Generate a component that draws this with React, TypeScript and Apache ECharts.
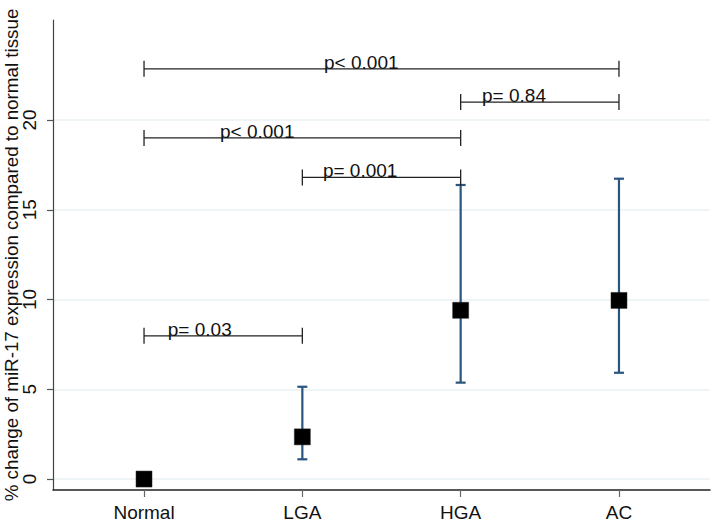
import React, { useEffect, useRef } from "react";
import * as echarts from "echarts";

const categories = ["Normal", "LGA", "HGA", "AC"];
const means = [0, 2.35, 9.4, 9.95];
const lowerCI = [0, 1.1, 5.37, 5.92];
const upperCI = [0, 5.14, 16.38, 16.73];
const yTicks = [0, 5, 10, 15, 20];

// comparison brackets: from category index, to category index, height, label, label start (x)
const bracketFrom = [1, 3, 1, 2, 1];
const bracketTo = [4, 4, 3, 3, 2];
const bracketY = [22.85, 21.0, 19.0, 16.8, 7.98];
const bracketLabels = ["p< 0.001", "p= 0.84", "p< 0.001", "p= 0.001", "p= 0.03"];
const bracketLabelX = [2.137, 3.135, 1.48, 2.13, 1.15];

const FONT = "Liberation Sans, Arial, Helvetica, sans-serif";
const FS = 19;

export default function App() {
  const ref = useRef<HTMLDivElement>(null);
  useEffect(() => {
    if (!ref.current) return;
    const chart = echarts.init(ref.current, null, { renderer: "svg" });
    const xs = categories.map((_, i) => i + 1);
    const option = {
      animation: false,
      backgroundColor: "#ffffff",
      grid: { left: 53, right: 4, top: 20, bottom: 33, containLabel: false, outerBoundsMode: "none" },
      xAxis: {
        type: "value",
        min: 0.425,
        max: 4.575,
        axisLine: { show: true, onZero: false, lineStyle: { color: "#222", width: 1.5 } },
        axisTick: { show: true, customValues: xs, length: 7, lineStyle: { color: "#666", width: 1.2 } },
        axisLabel: {
          customValues: xs,
          formatter: (v: number) => categories[Math.round(v) - 1] ?? "",
          fontSize: FS,
          fontFamily: FONT,
          color: "#111",
          margin: 13,
        },
        splitLine: { show: false },
      },
      yAxis: {
        type: "value",
        min: -0.61,
        max: 25.57,
        name: "% change of miR-17 expression compared to normal tissue",
        nameLocation: "middle",
        nameGap: 32,
        nameMoveOverlap: false,
        nameTextStyle: { fontSize: 18.8, fontFamily: FONT, color: "#111" },
        axisLine: { show: true, onZero: false, lineStyle: { color: "#444", width: 1.2 } },
        axisTick: { show: true, customValues: yTicks, length: 6, lineStyle: { color: "#555", width: 1.2 } },
        axisLabel: {
          customValues: yTicks,
          rotate: 90,
          fontSize: FS,
          fontFamily: FONT,
          color: "#111",
          margin: 14,
        },
        splitLine: { show: true, lineStyle: { color: "#eaf2f3", width: 1.5 } },
      },
      series: [
        {
          type: "custom",
          name: "ci",
          data: xs.map((x, i) => [x, lowerCI[i], upperCI[i]]),
          renderItem: (params: any, api: any) => {
            const x = api.value(0);
            const p1 = api.coord([x, api.value(1)]);
            const p2 = api.coord([x, api.value(2)]);
            const st = { stroke: "#2a557f", lineWidth: 2.2 };
            return {
              type: "group",
              children: [
                { type: "line", shape: { x1: p1[0], y1: p1[1], x2: p2[0], y2: p2[1] }, style: st },
                { type: "line", shape: { x1: p1[0] - 5, y1: p1[1], x2: p1[0] + 5, y2: p1[1] }, style: st },
                { type: "line", shape: { x1: p2[0] - 5, y1: p2[1], x2: p2[0] + 5, y2: p2[1] }, style: st },
              ],
            };
          },
          z: 2,
        },
        {
          type: "scatter",
          data: xs.map((x, i) => [x, means[i]]),
          symbol: "rect",
          symbolSize: 16,
          itemStyle: { color: "#000", opacity: 1, borderColor: "#222", borderWidth: 0.5 },
          z: 3,
        },
        {
          type: "custom",
          name: "brackets",
          data: bracketFrom.map((f, i) => [f, bracketTo[i], bracketY[i], bracketLabelX[i], i]),
          renderItem: (params: any, api: any) => {
            const a = api.coord([api.value(0), api.value(2)]);
            const b = api.coord([api.value(1), api.value(2)]);
            const t = api.coord([api.value(3), api.value(2)]);
            const idx = api.value(4);
            const st = { stroke: "#222", lineWidth: 1.3 };
            return {
              type: "group",
              children: [
                { type: "line", shape: { x1: a[0], y1: a[1], x2: b[0], y2: b[1] }, style: st },
                { type: "line", shape: { x1: a[0], y1: a[1] - 8, x2: a[0], y2: a[1] + 8 }, style: st },
                { type: "line", shape: { x1: b[0], y1: b[1] - 8, x2: b[0], y2: b[1] + 8 }, style: st },
                {
                  type: "text",
                  x: t[0],
                  y: t[1] + 3,
                  style: {
                    text: bracketLabels[idx],
                    fill: "#111",
                    fontSize: FS,
                    fontFamily: FONT,
                    align: "left",
                    verticalAlign: "bottom",
                  },
                },
              ],
            };
          },
          z: 4,
        },
      ],
    };
    chart.setOption(option as any);
    return () => chart.dispose();
  }, []);
  return <div ref={ref} style={{ width: 714, height: 523, position: "absolute", left: 0, top: 0 }} />;
}
